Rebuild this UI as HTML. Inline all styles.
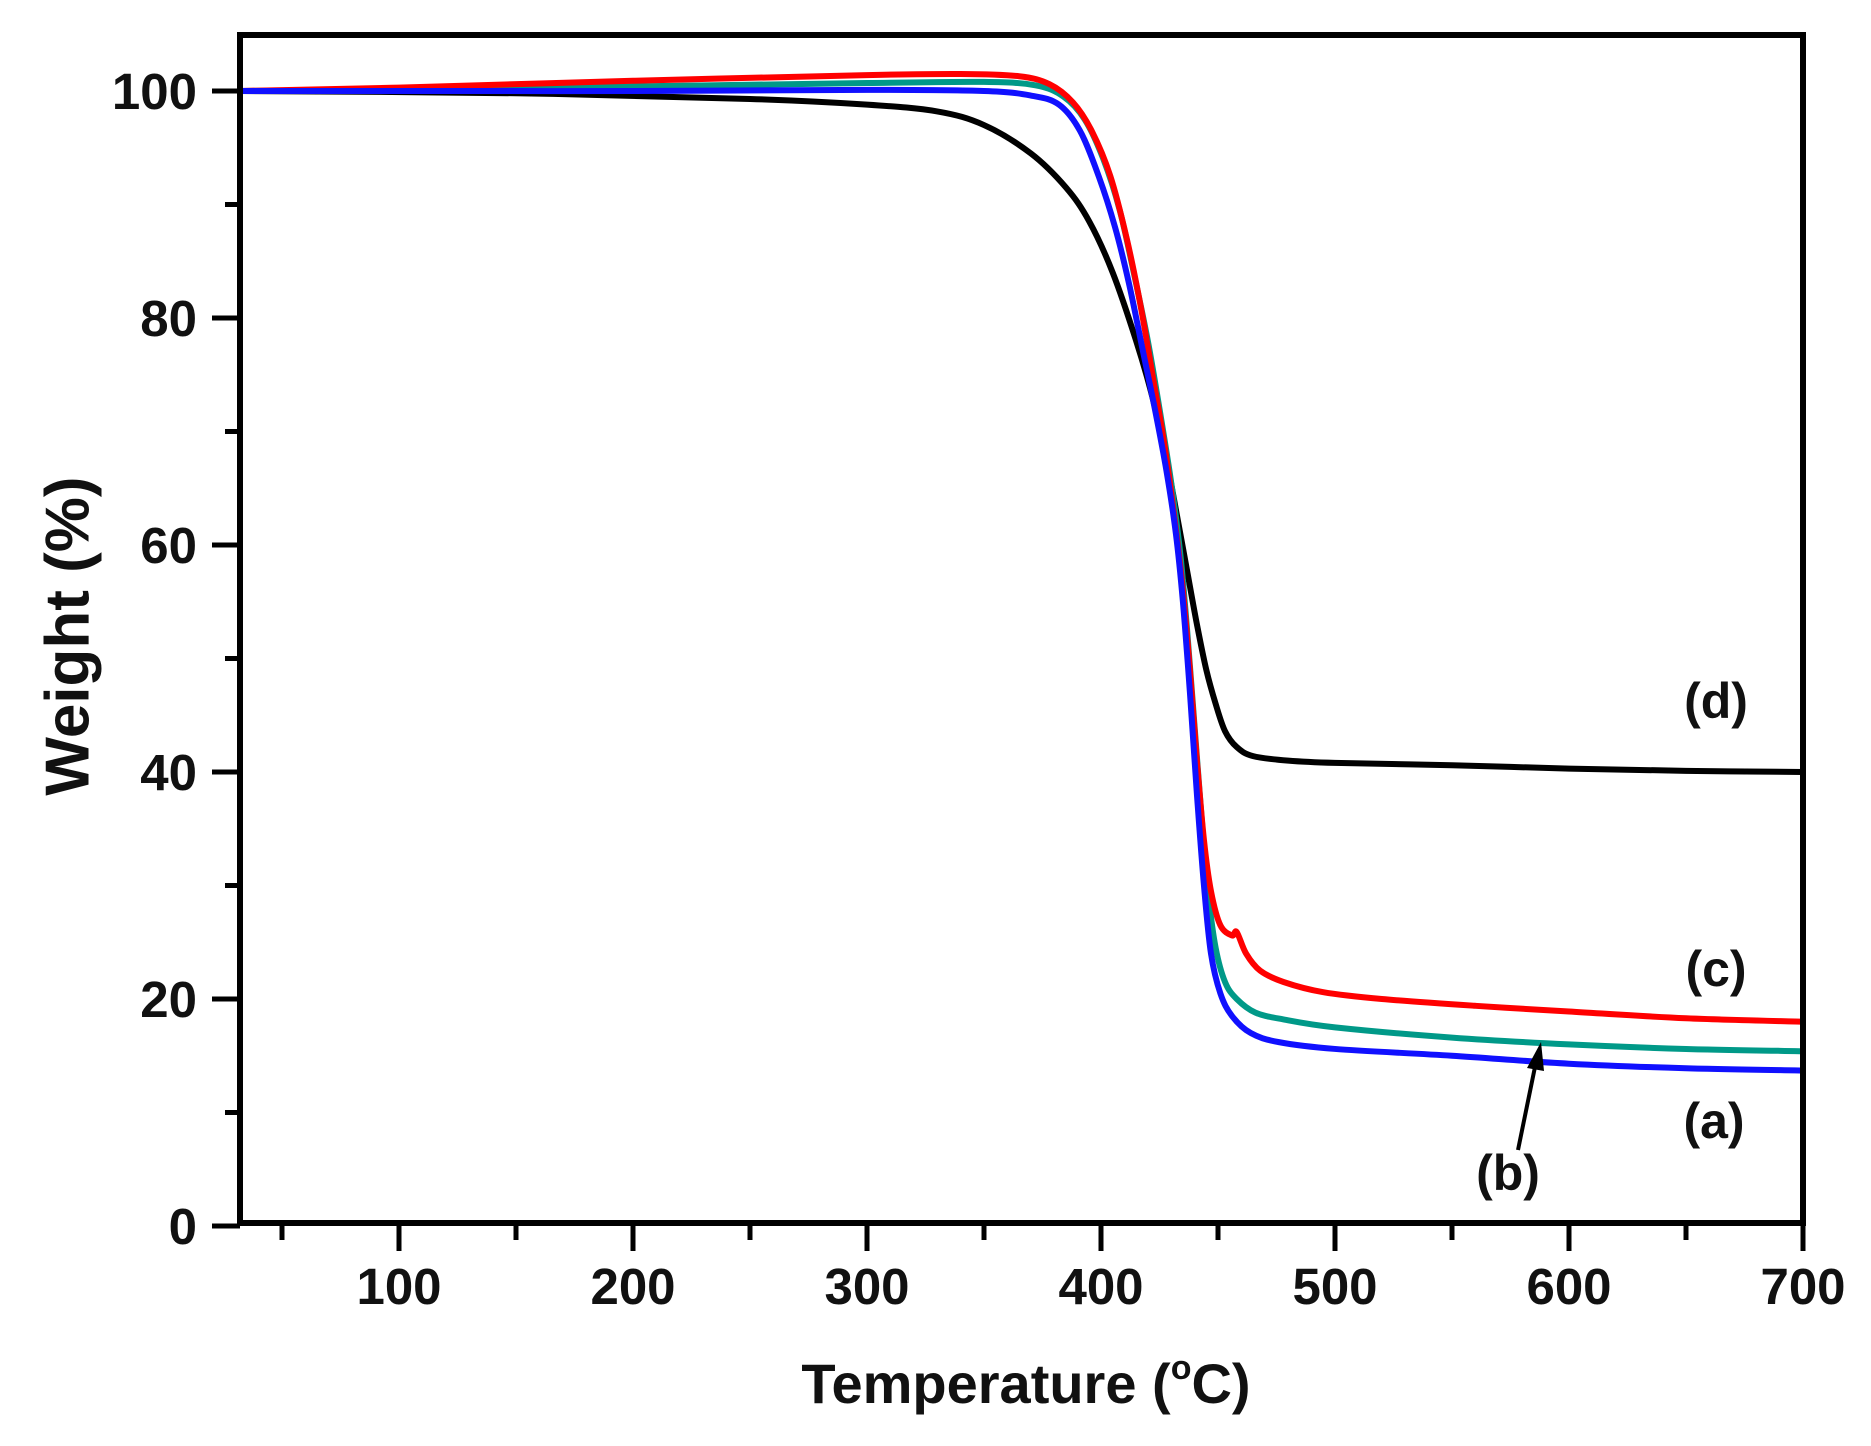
<!DOCTYPE html>
<html><head><meta charset="utf-8"><style>
html,body{margin:0;padding:0;background:#fff;}
svg{display:block;}
text{font-family:"Liberation Sans",Arial,sans-serif;font-weight:bold;fill:#111;}
</style></head><body>
<svg id="s" width="1871" height="1446" viewBox="0 0 1871 1446" xmlns="http://www.w3.org/2000/svg">
<g id="curves" fill="none" stroke-width="6" stroke-linejoin="round" stroke-linecap="round"></g>
<rect x="240" y="35" width="1563" height="1188" fill="none" stroke="#000" stroke-width="6"/>
<g id="ticks" stroke="#000" stroke-width="5"></g>
<g id="labels" font-size="51"></g>
<text x="72" y="636" font-size="62" text-anchor="middle" transform="rotate(-90 72 636)" dominant-baseline="middle">Weight (%)</text>
<text x="1026" y="1403" font-size="56" text-anchor="middle">Temperature (<tspan font-size="34" dy="-24">o</tspan><tspan dy="24">C)</tspan></text>
<text x="1716" y="718" font-size="50" text-anchor="middle">(d)</text>
<text x="1716" y="986" font-size="50" text-anchor="middle">(c)</text>
<text x="1714" y="1138" font-size="50" text-anchor="middle">(a)</text>
<text x="1508" y="1190" font-size="50" text-anchor="middle">(b)</text>
<line x1="1518" y1="1150" x2="1536" y2="1062" stroke="#000" stroke-width="4"/>
<polygon points="1541,1042 1527,1068 1544,1071" fill="#000"/>
</svg>
<script>
var NS="http://www.w3.org/2000/svg";
function X(t){return 1803-(700-t)*2.34;}
function Y(w){return 1226-w*11.35;}
var ticks=document.getElementById('ticks'),labels=document.getElementById('labels');
function ln(x1,y1,x2,y2){var l=document.createElementNS(NS,'line');l.setAttribute('x1',x1);l.setAttribute('y1',y1);l.setAttribute('x2',x2);l.setAttribute('y2',y2);ticks.appendChild(l);}
function tx(x,y,s,a){var t=document.createElementNS(NS,'text');t.setAttribute('x',x);t.setAttribute('y',y);t.setAttribute('text-anchor',a);t.textContent=s;labels.appendChild(t);}
for(var t=50;t<=700;t+=50){var x=X(t);ln(x,1223,x,t%100==0?1251:1240);if(t%100==0)tx(x,1304,t,'middle');}
for(var w=0;w<=100;w+=10){var y=Y(w);ln(240,y,w%20==0?212:225,y);if(w%20==0)tx(197,y+18,w,'end');}
var data={
d:["#000",[[32,100],[150,99.8],[250,99.3],[300,98.8],[330,98.2],[350,97],[370,94.5],[385,91.5],[395,88.5],[405,84],[415,78],[422,73],[428,67.5],[433,62],[437,57.5],[441,53],[445,49],[449,46],[453,43.6],[458,42.2],[465,41.4],[480,41],[500,40.8],[550,40.6],[600,40.3],[650,40.1],[700,40]]],
c:["#f00",[[32,100],[100,100.3],[200,100.9],[300,101.4],[340,101.5],[365,101.3],[378,100.6],[388,99],[396,96.5],[404,92.5],[411,87],[417,81],[422,75],[427,69],[431,63],[435,56],[438,49],[441,41],[444,34],[447,29.5],[451,26.5],[456,25.6],[458,25.9],[462,24],[468,22.5],[478,21.5],[495,20.6],[520,20],[560,19.4],[600,18.9],[650,18.3],[700,18]]],
b:["#009988",[[32,100],[100,100.1],[200,100.4],[300,100.7],[350,100.8],[372,100.5],[384,99.5],[393,97.5],[401,94],[408,89.5],[414,84],[420,78],[425,72],[430,65.5],[434,59],[437,52],[440,44],[443,36],[446,29],[449,24.5],[453,21.5],[458,20],[466,18.8],[478,18.2],[500,17.5],[550,16.6],[600,16],[650,15.6],[700,15.4]]],
a:["#1010ff",[[32,100],[100,100],[200,100],[300,100.1],[350,100],[370,99.6],[382,98.8],[391,96.5],[399,92.5],[406,88],[412,83],[418,77],[423,72],[428,66.5],[432,61],[435,55],[438,47],[441,38],[444,30],[447,24],[451,20.5],[456,18.5],[464,17],[476,16.2],[500,15.6],[550,15],[600,14.3],[650,13.9],[700,13.7]]]
};
var g=document.getElementById('curves');
["d","b","c","a"].forEach(function(k){
 var c=data[k][0],p=data[k][1].map(function(q){return [X(q[0]),Y(q[1])];});
 var d="M"+p[0][0]+","+p[0][1];
 for(var i=0;i<p.length-1;i++){
  var p0=p[i-1]||p[i],p1=p[i],p2=p[i+1],p3=p[i+2]||p2;
  var c1=[p1[0]+(p2[0]-p0[0])/6,p1[1]+(p2[1]-p0[1])/6],c2=[p2[0]-(p3[0]-p1[0])/6,p2[1]-(p3[1]-p1[1])/6];
  d+=" C"+c1.join(",")+" "+c2.join(",")+" "+p2.join(",");
 }
 var pa=document.createElementNS(NS,'path');pa.setAttribute('d',d);pa.setAttribute('stroke',c);g.appendChild(pa);
});
</script>
</body></html>
